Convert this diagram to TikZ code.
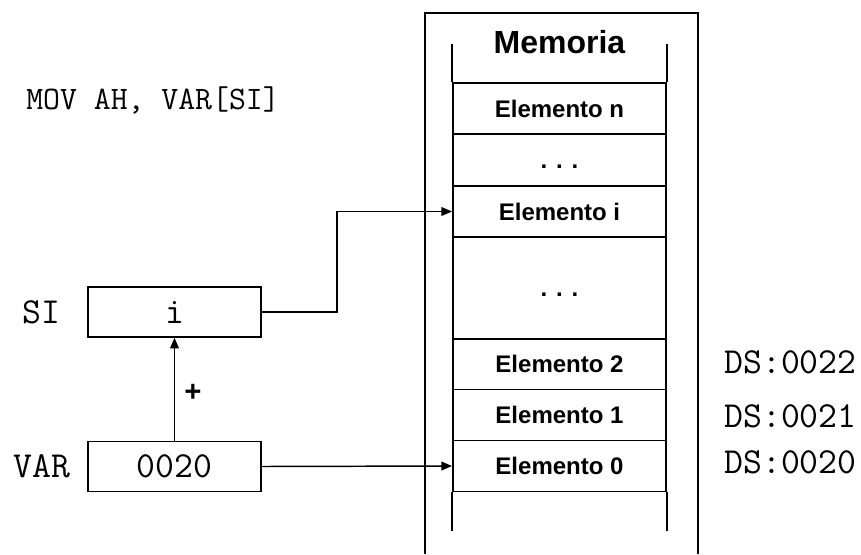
\documentclass[tikz,border=0pt]{standalone}
\usepackage{fontspec}
\setmainfont{Liberation Sans}
\usetikzlibrary{arrows.meta,positioning}

\tikzset{
  cell/.style={draw, minimum width=160pt, minimum height=38.25pt, inner sep=0pt, font=\bfseries\fontsize{18}{21}\selectfont},
  reg/.style={draw, minimum width=130pt, minimum height=37.5pt, inner sep=0pt, font=\ttfamily\fontsize{27.5}{30}\selectfont},
  code/.style={font=\ttfamily\fontsize{27.5}{30}\selectfont},
  link/.style={-{Triangle[length=8pt,width=6.5pt]}}
}

\begin{document}
\begin{tikzpicture}[x=0.75pt,y=-0.75pt,line width=1.1pt]
      \useasboundingbox (0,0) rectangle (861,554);
      % memoria
      \draw (425,554) -- (425,13) -- (698,13) -- (698,554);
      \node [font=\bfseries\fontsize{24}{28}\selectfont] (title) at (559.5,42) {Memoria};
      \node [cell] (elemn) at (559.5,108.5) {Elemento n};
      \node [cell] (dotsa) at (559.5,160) {\vphantom{E}. . .};
      \node [cell] (elemi) at (559.5,211.5) {Elemento i};
      \node [cell,minimum height=76.5pt] (dotsb) at (559.5,288) {\vphantom{E}. . .};
      \node [cell] (elem2) at (559.5,364) {Elemento 2};
      \node [cell] (elem1) at (559.5,415) {Elemento 1};
      \node [cell] (elem0) at (559.5,466) {Elemento 0};
      \draw (elemn.north west) -- ++(0,-38) (elemn.north east) -- ++(0,-38);
      \draw (elem0.south west) -- ++(0,39) (elem0.south east) -- ++(0,39);
      % direcciones
      \node [code] (ds2) at (790.5,362) {DS:0022};
      \node [code] (ds1) at (790.5,416) {DS:0021};
      \node [code] (ds0) at (790.5,462) {DS:0020};
      % registros
      \node [code,font=\ttfamily\fontsize{24.6}{28}\selectfont] (instr) at (153,100) {MOV AH, VAR[SI]};
      \node [reg] (si) at (174.5,312) {i};
      \node [reg] (var) at (174.5,466.5) {0020};
      \node [code] (silabel) at (41,312) {SI};
      \node [code] (varlabel) at (42,466.5) {VAR};
      \node [font=\bfseries\fontsize{22}{26}\selectfont] (plus) at (193,393) {+};
      \draw [link] (var.north) -- (si.south);
      \draw [link] (si.east) -- ++(75,0) |- (elemi.west);
      \draw [link] (var.east) -- (elem0.west);
    \end{tikzpicture}
\end{document}
